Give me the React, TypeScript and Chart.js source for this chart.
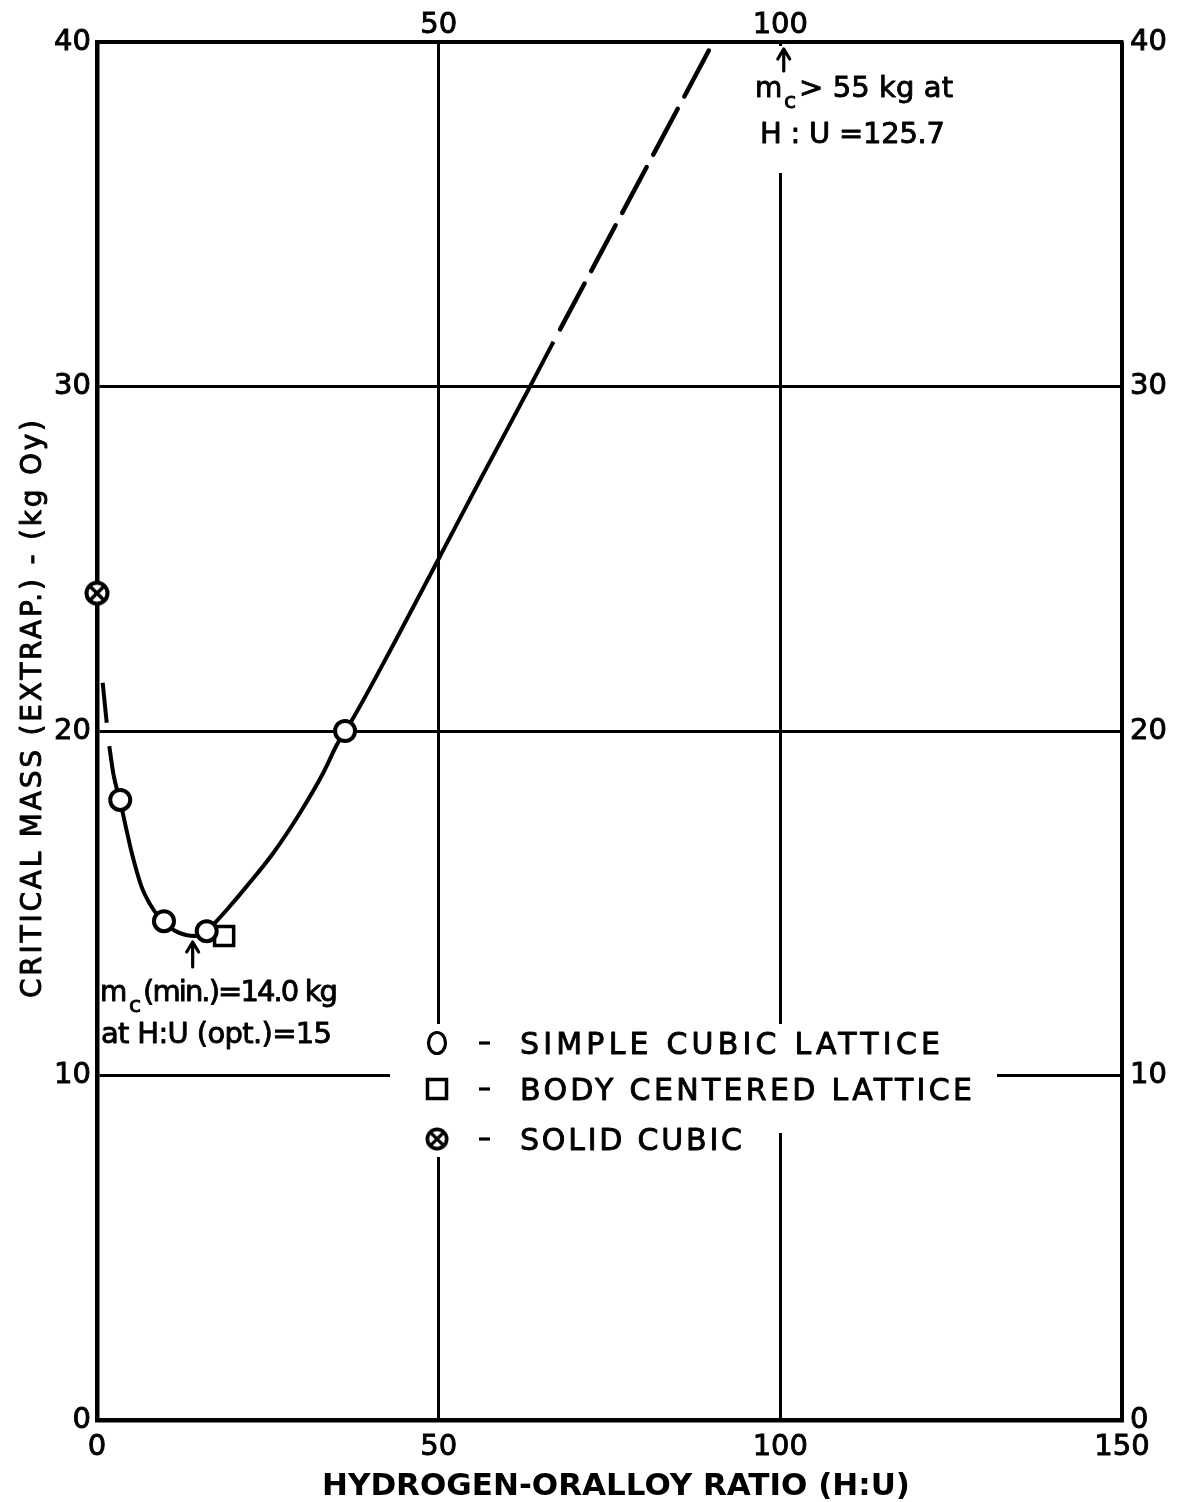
import React, { useEffect, useRef } from 'react';
import { Chart, registerables } from 'chart.js';

Chart.register(...registerables);

// ---------- data ----------
const xTickStep = 50;
const yTickStep = 10;
const xRange = [0, 150];
const yRange = [0, 40];
const topTickLabels = [50, 100];

const simpleCubicX = [3.4, 9.8, 16.05, 36.3];
const simpleCubicY = [18.0, 14.48, 14.19, 20.0];
const bodyCenteredX = [18.6];
const bodyCenteredY = [14.05];
const solidCubicX = [0];
const solidCubicY = [24.0];

const curveX = [1.8, 2.4, 3.4, 4.35, 5.1, 6.5, 7.8, 9.0, 9.8, 11.4, 13.0, 14.5, 16.05, 17.5, 19.0, 21.9, 25.8, 29.7, 33.1, 35.1, 36.3, 37.5, 43.4, 50.0, 56.1, 63.1, 66.8];
const curveY = [19.56, 18.75, 17.95, 17.1, 16.45, 15.49, 14.96, 14.62, 14.48, 14.2, 14.08, 14.05, 14.19, 14.48, 14.81, 15.49, 16.46, 17.62, 18.78, 19.6, 20.0, 20.38, 22.52, 25.0, 27.3, 29.9, 31.3];
const extrapHighX = [66.8, 90.2];
const extrapHighY = [31.3, 40.0];
const extrapLowX = [0.83, 1.42];
const extrapLowY = [21.4, 20.24];

const minArrowX = 14;
const topArrowX = 100.5;

const legendLabels = ['SIMPLE CUBIC LATTICE', 'BODY CENTERED LATTICE', 'SOLID CUBIC'];
const xTitle = 'HYDROGEN-ORALLOY RATIO (H:U)';
const yTitle = 'CRITICAL MASS (EXTRAP.) - (kg Oy)';
const minNote1 = '(min.)=14.0 kg';
const minNote2 = 'at H:U (opt.)=15';
const topNote1 = '> 55 kg at';
const topNote2 = 'H : U =125.7';

const FONT = "'DejaVu Sans', 'Liberation Sans', sans-serif";

const pts = (xs: number[], ys: number[]) => xs.map((x, i) => ({ x, y: ys[i] }));

function makeOtimes(size: number) {
  const c = document.createElement('canvas');
  c.width = size;
  c.height = size;
  const g = c.getContext('2d')!;
  const r = size / 2;
  g.fillStyle = '#fff';
  g.beginPath();
  g.arc(r, r, r - 2.5, 0, Math.PI * 2);
  g.fill();
  g.strokeStyle = '#000';
  g.lineWidth = 4;
  g.stroke();
  const d = (r - 2.5) * 0.72;
  g.lineWidth = 3.5;
  g.beginPath();
  g.moveTo(r - d, r - d);
  g.lineTo(r + d, r + d);
  g.moveTo(r + d, r - d);
  g.lineTo(r - d, r + d);
  g.stroke();
  return c;
}

function fitText(ctx: CanvasRenderingContext2D, text: string, x: number, yBase: number, width: number, font: string, stroke = 0.9) {
  ctx.font = font;
  (ctx as any).letterSpacing = '0px';
  const w = ctx.measureText(text).width;
  const ls = text.length > 1 ? (width - w) / (text.length - 1) : 0;
  (ctx as any).letterSpacing = ls + 'px';
  ctx.textAlign = 'left';
  ctx.textBaseline = 'alphabetic';
  ctx.fillText(text, x, yBase);
  if (stroke > 0) {
    ctx.lineWidth = stroke;
    ctx.lineJoin = 'round';
    ctx.strokeText(text, x, yBase);
  }
  (ctx as any).letterSpacing = '0px';
}

function arrowUp(ctx: CanvasRenderingContext2D, x: number, tip: number, len: number) {
  ctx.save();
  ctx.strokeStyle = '#000';
  ctx.lineWidth = 3.2;
  ctx.lineCap = 'round';
  ctx.beginPath();
  ctx.moveTo(x, tip + len);
  ctx.lineTo(x, tip + 1);
  ctx.moveTo(x - 6, tip + 10);
  ctx.lineTo(x, tip);
  ctx.lineTo(x + 6, tip + 10);
  ctx.stroke();
  ctx.restore();
}

export default function App() {
  const ref = useRef<HTMLCanvasElement | null>(null);

  useEffect(() => {
    document.body.style.margin = '0';
    const canvas = ref.current!;
    const otimes = makeOtimes(26);

    const paper = {
      id: 'paper',
      beforeDraw(chart: any) {
        const ctx = chart.ctx;
        ctx.save();
        ctx.fillStyle = '#fff';
        ctx.fillRect(0, 0, chart.width, chart.height);
        ctx.restore();
      },
      beforeDatasetsDraw(chart: any) {
        const ctx = chart.ctx;
        ctx.save();
        ctx.fillStyle = '#fff';
        // legend gap in grid
        ctx.fillRect(390, 1024, 607, 109);
        ctx.fillRect(390, 1133, 370, 24);
        // top annotation gap
        ctx.fillRect(745, 46, 220, 127);
        ctx.restore();
      },
      afterDraw(chart: any) {
        const ctx: CanvasRenderingContext2D = chart.ctx;
        const xs = chart.scales.x;
        const ys = chart.scales.y;
        ctx.save();
        ctx.fillStyle = '#000';
        ctx.strokeStyle = '#000';

        // axis titles
        fitText(ctx, xTitle, 322, 1495, 588, `bold 31px ${FONT}`, 0);
        ctx.save();
        ctx.translate(30, 998);
        ctx.rotate(-Math.PI / 2);
        fitText(ctx, yTitle, 0, 10.5, 578, `28px ${FONT}`);
        ctx.restore();

        // legend
        const rows = [1043, 1089, 1139];
        const sx = 437;
        ctx.lineWidth = 3.2;
        ctx.beginPath();
        ctx.ellipse(sx, rows[0], 8.5, 10.5, 0, 0, Math.PI * 2);
        ctx.stroke();
        ctx.lineWidth = 3.5;
        ctx.strokeRect(sx - 9.5, rows[1] - 9.5, 19, 19);
        ctx.drawImage(otimes, sx - 12, rows[2] - 12, 24, 24);
        ctx.lineWidth = 3.2;
        rows.forEach((cy) => {
          ctx.beginPath();
          ctx.moveTo(479, cy);
          ctx.lineTo(490, cy);
          ctx.stroke();
        });
        const ends = [940, 972, 742];
        legendLabels.forEach((t, i) => fitText(ctx, t, 520, rows[i] + 11, ends[i] - 520, `30px ${FONT}`));

        // min annotation
        const ax = xs.getPixelForValue(minArrowX);
        arrowUp(ctx, ax, 942, 25);
        fitText(ctx, 'm', 100, 1001, 26, `28px ${FONT}`);
        fitText(ctx, 'c', 129, 1012, 11, `22px ${FONT}`);
        fitText(ctx, minNote1, 143, 1001, 195, `29px ${FONT}`);
        fitText(ctx, minNote2, 101, 1043, 231, `29px ${FONT}`);

        // top annotation
        const tx = xs.getPixelForValue(topArrowX);
        arrowUp(ctx, tx, ys.getPixelForValue(40) + 7, 22);
        fitText(ctx, 'm', 755, 97, 26, `28px ${FONT}`);
        fitText(ctx, 'c', 784, 108, 11, `22px ${FONT}`);
        fitText(ctx, topNote1, 799, 97, 154, `29px ${FONT}`);
        fitText(ctx, topNote2, 760, 143, 185, `29px ${FONT}`);
        ctx.restore();
      },
    };

    const tickFont = { family: FONT, size: 29 };
    const tickCommon = { font: tickFont, color: '#000', textStrokeColor: '#000', textStrokeWidth: 0.9 };
    const chart = new Chart(canvas, {
      type: 'scatter',
      data: {
        datasets: [
          {
            label: 'Simple cubic lattice',
            data: pts(simpleCubicX, simpleCubicY),
            pointStyle: 'circle',
            pointRadius: 10,
            pointBorderWidth: 4,
            pointBackgroundColor: '#fff',
            pointBorderColor: '#000',
            order: 0,
          },
          {
            label: 'Body centered lattice',
            data: pts(bodyCenteredX, bodyCenteredY),
            pointStyle: 'rect',
            pointRadius: 13.5,
            pointBorderWidth: 3.5,
            pointBackgroundColor: '#fff',
            pointBorderColor: '#000',
            order: 0,
          },
          {
            label: 'Solid cubic',
            data: pts(solidCubicX, solidCubicY),
            pointStyle: otimes as any,
            pointRadius: 13,
            order: 0,
          },
          {
            label: 'Curve',
            data: pts(curveX, curveY),
            showLine: true,
            borderColor: '#000',
            borderWidth: 4,
            pointRadius: 0,
            cubicInterpolationMode: 'monotone',
            order: 1,
          },
          {
            label: 'Extrapolated high',
            data: pts(extrapHighX, extrapHighY),
            showLine: true,
            borderColor: '#000',
            borderWidth: 4.5,
            borderDash: [52, 14],
            borderDashOffset: 52,
            borderCapStyle: 'round',
            pointRadius: 0,
            order: 1,
          },
          {
            label: 'Extrapolated low',
            data: pts(extrapLowX, extrapLowY),
            showLine: true,
            borderColor: '#000',
            borderWidth: 4,
            pointRadius: 0,
            order: 1,
          },
        ],
      } as any,
      options: {
        responsive: false,
        animation: false,
        devicePixelRatio: 1,
        clip: false as any,
        layout: { padding: 0 },
        plugins: { legend: { display: false }, tooltip: { enabled: false }, title: { display: false } },
        scales: {
          x: {
            type: 'linear',
            position: 'bottom',
            min: xRange[0],
            max: xRange[1],
            ticks: { ...tickCommon, stepSize: xTickStep, padding: 10, maxRotation: 0 },
            grid: { color: '#000', lineWidth: 3, drawTicks: false },
            border: { color: '#000', width: 4.5 },
            afterFit: (s: any) => { s.height = 82; },
          },
          x2: {
            type: 'linear',
            position: 'top',
            min: xRange[0],
            max: xRange[1],
            ticks: {
              ...tickCommon,
              stepSize: xTickStep,
              padding: -1,
              maxRotation: 0,
              callback: (v: any) => (topTickLabels.includes(Number(v)) ? String(v) : ''),
            },
            grid: { display: false, drawTicks: false },
            border: { color: '#000', width: 3.5 },
            afterFit: (s: any) => { s.height = 42; },
          },
          y: {
            type: 'linear',
            position: 'left',
            min: yRange[0],
            max: yRange[1],
            ticks: { ...tickCommon, stepSize: yTickStep, padding: 6 },
            grid: { color: '#000', lineWidth: 3, drawTicks: false },
            border: { color: '#000', width: 4.5 },
            afterFit: (s: any) => { s.width = 97; },
          },
          y2: {
            type: 'linear',
            position: 'right',
            min: yRange[0],
            max: yRange[1],
            ticks: { ...tickCommon, stepSize: yTickStep, padding: 8 },
            grid: { display: false, drawTicks: false },
            border: { color: '#000', width: 3.5 },
            afterFit: (s: any) => { s.width = 56; },
          },
        },
      } as any,
      plugins: [paper as any],
    });
    return () => chart.destroy();
  }, []);

  return <canvas ref={ref} width={1178} height={1502} style={{ display: 'block', width: 1178, height: 1502 }} />;
}
